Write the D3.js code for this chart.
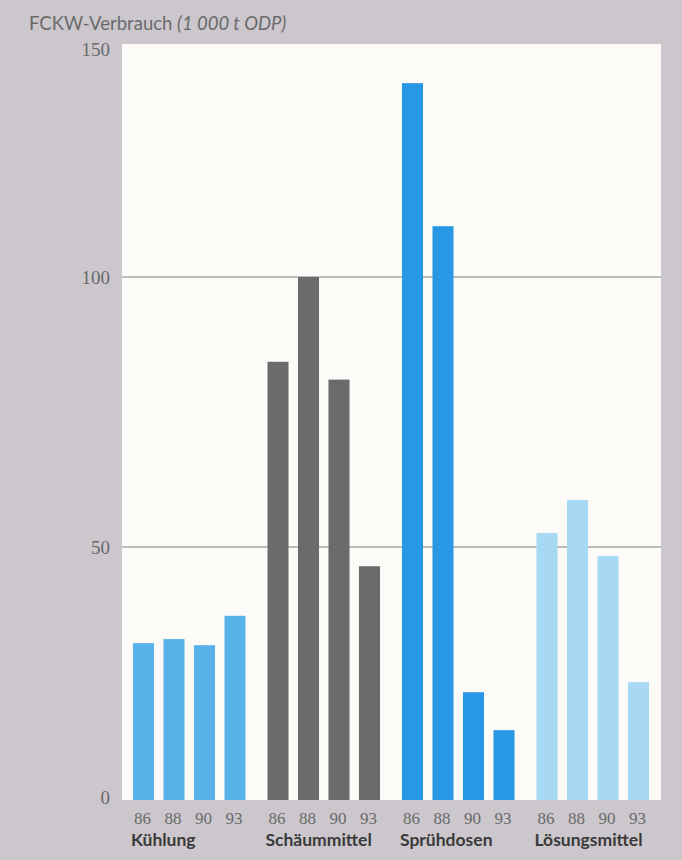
<!DOCTYPE html>
<html><head><meta charset="utf-8">
<script src="https://cdn.jsdelivr.net/npm/d3@7"></script>
<style>html,body{margin:0;padding:0;background:#cbc7cc;}</style>
</head><body>
<svg id="c" width="682" height="860"></svg>
<script>
const categories = ["Kühlung", "Schäummittel", "Sprühdosen", "Lösungsmittel"];
const years = ["86", "88", "90", "93"];
const kuehlung = [31.0, 31.8, 30.6, 36.4];
const schaeummittel = [84.3, 100, 81.0, 46.2];
const spruehdosen = [141.6, 110.9, 21.3, 13.8];
const loesungsmittel = [52.6, 58.7, 48.2, 23.3];
const yTicks = [0, 50, 100, 150];
const seriesValues = [kuehlung, schaeummittel, spruehdosen, loesungsmittel];
const colors = ["#58b1e8", "#6b6a6d", "#2898e4", "#a8d9f3"];

const svg = d3.select("#c");
svg.append("rect").attr("width", 682).attr("height", 860).attr("fill", "#cbc7cc");

const panel = {x0: 122, x1: 661, y0: 44, y1: 800};
svg.append("rect").attr("x", panel.x0).attr("y", panel.y0)
  .attr("width", panel.x1 - panel.x0).attr("height", panel.y1 - panel.y0)
  .attr("fill", "#fcfbf8");

// printed axis is not evenly spaced; use a polylinear scale through the labelled ticks
const y = d3.scaleLinear().domain([0, 50, 100, 150]).range([800, 547, 277, 44]);
const x0 = d3.scaleBand().domain(categories).range([122, 660]).padding(0);
const x1 = d3.scaleBand().domain(years).range([0, x0.bandwidth()]).paddingInner(0.31).paddingOuter(0.36);

// gridlines
svg.append("g").selectAll("line").data([50, 100]).join("line")
  .attr("x1", panel.x0).attr("x2", panel.x1)
  .attr("y1", d => y(d)).attr("y2", d => y(d))
  .attr("stroke", "#7a7a7a").attr("stroke-width", 1);

// y axis labels
const yAxis = svg.append("g").attr("transform", `translate(${panel.x0},0)`)
  .call(d3.axisLeft(y).tickValues(yTicks).tickSize(0).tickPadding(12));
yAxis.select(".domain").remove();
yAxis.selectAll("text").attr("font-family", "'Liberation Serif', serif")
  .attr("font-size", 19).attr("fill", "#6a6a6a")
  .attr("dy", d => d === 150 ? "0.6em" : (d === 0 ? "0.2em" : "0.32em"));

// bars
const data = [];
categories.forEach((c, i) => years.forEach((yr, j) => data.push({c, yr, v: seriesValues[i][j], i})));
svg.append("g").selectAll("rect").data(data).join("rect")
  .attr("x", d => x0(d.c) + x1(d.yr))
  .attr("width", x1.bandwidth())
  .attr("y", d => y(d.v))
  .attr("height", d => y(0) - y(d.v))
  .attr("fill", d => colors[d.i]);

// year labels
svg.append("g").selectAll("text").data(data).join("text")
  .attr("x", d => x0(d.c) + x1(d.yr) + x1.bandwidth() / 2 - 1)
  .attr("y", 824).attr("text-anchor", "middle")
  .attr("font-family", "'Liberation Serif', serif").attr("font-size", 17)
  .attr("fill", "#6a6a6a").text(d => d.yr);

// category labels
svg.append("g").selectAll("text").data(categories).join("text")
  .attr("x", d => x0(d) + x1(years[0]) - 2)
  .attr("y", 846)
  .attr("font-family", "Lato, sans-serif").attr("font-weight", "bold").attr("font-size", 17.5)
  .attr("fill", "#3a3a3a").text(d => d);

// title
const t = svg.append("text").attr("x", 29).attr("y", 30)
  .attr("font-family", "Lato, sans-serif").attr("font-size", 18.5).attr("fill", "#6a6a6a");
t.append("tspan").text("FCKW-Verbrauch ");
t.append("tspan").attr("font-style", "italic").text("(1 000 t ODP)");
</script>
</body></html>
